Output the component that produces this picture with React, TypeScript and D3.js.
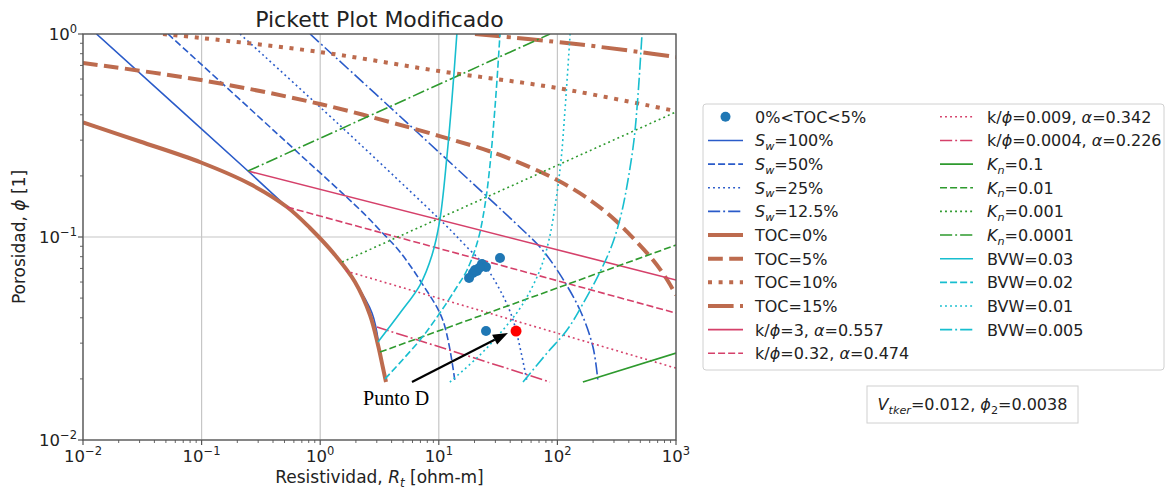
import React from 'react';
import * as d3 from 'd3';

type P = [number, number];

// ---------- data (Rt [ohm-m], phi [1]) ----------
const sw100: P[] = [[0.013, 1], [0.246, 0.2114], [0.525, 0.1405], [0.8204, 0.1107], [1.333, 0.0815], [1.965, 0.06002], [2.734, 0.0422], [3.1, 0.0304]];
const sw50: P[] = [[0.0521, 1], [0.59, 0.274], [2.17, 0.136], [3.19, 0.108], [4.71, 0.0844], [7.18, 0.0593], [10.8, 0.039], [13.7, 0.0193]];
const sw25: P[] = [[0.211, 1], [1.47, 0.354], [11.3, 0.115], [16.6, 0.0913], [24.5, 0.072], [32.8, 0.0548], [42.3, 0.039], [55.5, 0.0193]];
const sw125: P[] = [[0.821, 1], [6.94, 0.319], [51.3, 0.108], [71.3, 0.0892], [99.4, 0.0688], [155, 0.0437], [199.5, 0.0287], [220, 0.0193]];

const toc0: P[] = [[0.01, 0.3664], [0.03024, 0.2954], [0.09884, 0.2328], [0.2559, 0.1824], [0.5249, 0.1405], [0.8204, 0.1107], [1.333, 0.0815], [1.965, 0.06002], [2.63, 0.04127], [3.072, 0.02938], [3.385, 0.02263], [3.587, 0.0193]];
const toc5: P[] = [[0.01, 0.72], [0.0989, 0.593], [0.996, 0.452], [10, 0.315], [32.8, 0.2535], [99.4, 0.1909], [188.3, 0.1522], [306, 0.1213], [451, 0.0966], [640, 0.077], [824, 0.0628], [1000, 0.0518]];
const toc10: P[] = [[0.0473, 1], [0.0989, 0.956], [0.996, 0.815], [10, 0.657], [99.4, 0.542], [1000, 0.417]];
const toc15: P[] = [[20.2, 1], [120, 0.903], [497, 0.815], [1000, 0.77]];

const kphi3: P[] = [[0.246, 0.2114], [1000, 0.0614]];
const kphi032: P[] = [[0.525, 0.1405], [1000, 0.0422]];
const kphi0009: P[] = [[1.65, 0.068], [1000, 0.0226]];
const kphi00004: P[] = [[3.01, 0.036], [86.6, 0.0193]];

const kn01: P[] = [[164, 0.0193], [1000, 0.0268]];
const kn001: P[] = [[3.19, 0.0271], [1000, 0.0913]];
const kn0001: P[] = [[1.53, 0.0753], [1000, 0.413]];
const kn00001: P[] = [[0.246, 0.2114], [86.6, 1]];

const bvw03: P[] = [[3.07, 0.0304], [4.71, 0.0422], [6.94, 0.058], [8.77, 0.0815], [10.2, 0.121], [11.7, 0.248], [12.9, 0.473], [14.2, 1]];
const bvw02: P[] = [[3.52, 0.02], [6.94, 0.0311], [10.2, 0.0422], [14.2, 0.0567], [17.3, 0.0688], [21.4, 0.0966], [24.52, 0.1438], [27.02, 0.2263], [29.2, 0.3771], [30.96, 0.5935], [32.8, 1]];
const bvw01: P[] = [[12.4, 0.0193], [22.2, 0.0262], [34.7, 0.0348], [50.4, 0.0462], [71.3, 0.0688], [84.9, 0.0966], [97.3, 0.1522], [107.3, 0.2394], [115.9, 0.4223], [128, 1]];
const bvw005: P[] = [[51.3, 0.0193], [81.7, 0.0268], [120.5, 0.0348], [170.9, 0.0489], [228.7, 0.0672], [288.7, 0.0913], [343.9, 0.1283], [393.9, 0.1909], [442.4, 0.3005], [478.2, 0.5005], [516.9, 1]];

const ptsRt = [32.8, 23.1, 25.0, 21.0, 19.4, 18.0, 20.2, 22.0, 25.0];
const ptsPhi = [0.0788, 0.0736, 0.0712, 0.068, 0.0665, 0.0628, 0.0688, 0.0705, 0.0344];
const pointD: P = [44.8, 0.0344];
const arrowTail: P = [5.94, 0.0193];
const arrowHead: P = [38.3, 0.0337];
const labelD: P = [2.3, 0.01486];

const xDecades = [-2, -1, 0, 1, 2, 3];
const yDecades = [-2, -1, 0];

// ---------- layout / styles ----------
const W = 1170, H = 491;
const L = 83, R = 676, T = 34, B = 440;
const xS = d3.scaleLog().domain([1e-2, 1e3]).range([L, R]);
const yS = d3.scaleLog().domain([1e-2, 1]).range([B, T]);

const COL = { sw: '#2a5bc9', toc: '#bd6b4e', kp: '#d5406a', kn: '#2e9a2e', bvw: '#17becf', pt: '#1f77b4' };
const THIN = 1.6, THICK = 4;
const FONT = '"DejaVu Sans", sans-serif';

type St = 'solid' | 'dashed' | 'dotted' | 'dashdot';
function dashOf(s: St, thick: boolean): string | undefined {
  const u = thick ? 4 : 1.9;
  if (s === 'solid') return undefined;
  const pat = s === 'dashed' ? [3.7, 1.6] : s === 'dotted' ? [1, 1.65] : [6.4, 1.6, 1, 1.6];
  return pat.map(v => (v * u).toFixed(2)).join(',');
}

type Seg = { t: string; i?: boolean; sub?: boolean };
type Ser = { d: P[]; c: string; s: St; thick?: boolean; label: Seg[] };

const series: Ser[] = [
  { d: sw100, c: COL.sw, s: 'solid', label: [{ t: 'S', i: true }, { t: 'w', i: true, sub: true }, { t: '=100%' }] },
  { d: sw50, c: COL.sw, s: 'dashed', label: [{ t: 'S', i: true }, { t: 'w', i: true, sub: true }, { t: '=50%' }] },
  { d: sw25, c: COL.sw, s: 'dotted', label: [{ t: 'S', i: true }, { t: 'w', i: true, sub: true }, { t: '=25%' }] },
  { d: sw125, c: COL.sw, s: 'dashdot', label: [{ t: 'S', i: true }, { t: 'w', i: true, sub: true }, { t: '=12.5%' }] },
  { d: toc0, c: COL.toc, s: 'solid', thick: true, label: [{ t: 'TOC=0%' }] },
  { d: toc5, c: COL.toc, s: 'dashed', thick: true, label: [{ t: 'TOC=5%' }] },
  { d: toc10, c: COL.toc, s: 'dotted', thick: true, label: [{ t: 'TOC=10%' }] },
  { d: toc15, c: COL.toc, s: 'dashdot', thick: true, label: [{ t: 'TOC=15%' }] },
  { d: kphi3, c: COL.kp, s: 'solid', label: [{ t: 'k/' }, { t: 'ϕ', i: true }, { t: '=3, ' }, { t: 'α', i: true }, { t: '=0.557' }] },
  { d: kphi032, c: COL.kp, s: 'dashed', label: [{ t: 'k/' }, { t: 'ϕ', i: true }, { t: '=0.32, ' }, { t: 'α', i: true }, { t: '=0.474' }] },
  { d: kphi0009, c: COL.kp, s: 'dotted', label: [{ t: 'k/' }, { t: 'ϕ', i: true }, { t: '=0.009, ' }, { t: 'α', i: true }, { t: '=0.342' }] },
  { d: kphi00004, c: COL.kp, s: 'dashdot', label: [{ t: 'k/' }, { t: 'ϕ', i: true }, { t: '=0.0004, ' }, { t: 'α', i: true }, { t: '=0.226' }] },
  { d: kn01, c: COL.kn, s: 'solid', label: [{ t: 'K', i: true }, { t: 'n', i: true, sub: true }, { t: '=0.1' }] },
  { d: kn001, c: COL.kn, s: 'dashed', label: [{ t: 'K', i: true }, { t: 'n', i: true, sub: true }, { t: '=0.01' }] },
  { d: kn0001, c: COL.kn, s: 'dotted', label: [{ t: 'K', i: true }, { t: 'n', i: true, sub: true }, { t: '=0.001' }] },
  { d: kn00001, c: COL.kn, s: 'dashdot', label: [{ t: 'K', i: true }, { t: 'n', i: true, sub: true }, { t: '=0.0001' }] },
  { d: bvw03, c: COL.bvw, s: 'solid', label: [{ t: 'BVW=0.03' }] },
  { d: bvw02, c: COL.bvw, s: 'dashed', label: [{ t: 'BVW=0.02' }] },
  { d: bvw01, c: COL.bvw, s: 'dotted', label: [{ t: 'BVW=0.01' }] },
  { d: bvw005, c: COL.bvw, s: 'dashdot', label: [{ t: 'BVW=0.005' }] },
];

const lineGen = d3.line<P>().x(d => xS(d[0])).y(d => yS(d[1])).curve(d3.curveCatmullRom.alpha(0.5));

function Rich({ segs, x, y, size, anchor, transform }: { segs: Seg[]; x?: number; y?: number; size: number; anchor?: string; transform?: string }) {
  const out: React.ReactNode[] = [];
  let prevSub = false;
  segs.forEach((s, k) => {
    let dy = 0;
    if (s.sub && !prevSub) dy = size * 0.22;
    else if (!s.sub && prevSub) dy = -size * 0.22;
    prevSub = !!s.sub;
    out.push(
      <tspan key={k} dy={dy || undefined} fontStyle={s.i ? 'italic' : undefined} fontSize={s.sub ? size * 0.7 : undefined}>{s.t}</tspan>
    );
  });
  return (
    <text x={x} y={y} fontSize={size} fontFamily={FONT} fill="#222" textAnchor={anchor} transform={transform}>{out}</text>
  );
}

function Pow({ e, x, y, anchor }: { e: number; x: number; y: number; anchor: string }) {
  const es = e < 0 ? '\u2212' + Math.abs(e) : String(e);
  return (
    <text x={x} y={y} fontSize={16.5} fontFamily={FONT} fill="#222" textAnchor={anchor}>
      <tspan>10</tspan>
      <tspan dy={-7.5} fontSize={11.5}>{es}</tspan>
    </text>
  );
}

export default function App() {
  const minorX: number[] = [];
  xDecades.slice(0, -1).forEach(d => { for (let k = 2; k <= 9; k++) minorX.push(k * Math.pow(10, d)); });
  const minorY: number[] = [];
  yDecades.slice(0, -1).forEach(d => { for (let k = 2; k <= 9; k++) minorY.push(k * Math.pow(10, d)); });

  // arrow geometry in px
  const tx = xS(arrowTail[0]), ty = yS(arrowTail[1]);
  const hx = xS(arrowHead[0]), hy = yS(arrowHead[1]);
  const ang = Math.atan2(hy - ty, hx - tx);
  const hl = 15, hw = 5.5;
  const bx = hx - hl * Math.cos(ang), by = hy - hl * Math.sin(ang);
  const px = -Math.sin(ang), py = Math.cos(ang);
  const head = `${hx},${hy} ${bx + hw * px},${by + hw * py} ${bx - hw * px},${by - hw * py}`;

  const col1 = series.slice(0, 10);
  const col2 = series.slice(10);
  const rowY = (i: number) => 116.8 + 23.65 * i;

  return (
    <svg width={W} height={H} style={{ position: 'absolute', left: 0, top: 0, background: '#fff' }}>
      <defs>
        <clipPath id="plotClip"><rect x={L} y={T} width={R - L} height={B - T} /></clipPath>
      </defs>
      <rect x={0} y={0} width={W} height={H} fill="#fff" />

      {/* grid */}
      {xDecades.map(d => (
        <line key={'gx' + d} x1={xS(Math.pow(10, d))} x2={xS(Math.pow(10, d))} y1={T} y2={B} stroke="#c6c6c6" strokeWidth={1.2} />
      ))}
      {yDecades.map(d => (
        <line key={'gy' + d} y1={yS(Math.pow(10, d))} y2={yS(Math.pow(10, d))} x1={L} x2={R} stroke="#c6c6c6" strokeWidth={1.2} />
      ))}

      {/* curves */}
      <g clipPath="url(#plotClip)">
        {series.map((s, k) => (
          <path key={k} d={lineGen(s.d) || ''} fill="none" stroke={s.c} strokeWidth={s.thick ? THICK : THIN}
            strokeDasharray={dashOf(s.s, !!s.thick)} strokeLinecap="butt" strokeLinejoin="round" />
        ))}
        {ptsRt.map((r, k) => (
          <circle key={'p' + k} cx={xS(r)} cy={yS(ptsPhi[k])} r={5} fill={COL.pt} />
        ))}
        <circle cx={xS(pointD[0])} cy={yS(pointD[1])} r={5.5} fill="#ff0000" />
      </g>

      {/* arrow + label */}
      <line x1={tx} y1={ty} x2={bx} y2={by} stroke="#000" strokeWidth={2.2} />
      <polygon points={head} fill="#000" />
      <text x={xS(labelD[0])} y={yS(labelD[1])} fontFamily={'"Liberation Serif", "Times New Roman", serif'} fontSize={20} fill="#000">Punto D</text>

      {/* axes frame */}
      <rect x={L} y={T} width={R - L} height={B - T} fill="none" stroke="#555" strokeWidth={1.3} />
      {xDecades.map(d => (
        <g key={'tx' + d}>
          <line x1={xS(Math.pow(10, d))} x2={xS(Math.pow(10, d))} y1={B} y2={B + 5} stroke="#555" strokeWidth={1.2} />
          <Pow e={d} x={xS(Math.pow(10, d))} y={462} anchor="middle" />
        </g>
      ))}
      {minorX.map((v, k) => (
        <line key={'mx' + k} x1={xS(v)} x2={xS(v)} y1={B} y2={B + 3} stroke="#555" strokeWidth={0.9} />
      ))}
      {yDecades.map(d => (
        <g key={'ty' + d}>
          <line y1={yS(Math.pow(10, d))} y2={yS(Math.pow(10, d))} x1={L} x2={L - 5} stroke="#555" strokeWidth={1.2} />
          <Pow e={d} x={77} y={yS(Math.pow(10, d)) + 6} anchor="end" />
        </g>
      ))}
      {minorY.map((v, k) => (
        <line key={'my' + k} y1={yS(v)} y2={yS(v)} x1={L} x2={L - 3} stroke="#555" strokeWidth={0.9} />
      ))}

      {/* titles */}
      <text x={(L + R) / 2} y={27} fontSize={22} fontFamily={FONT} fill="#222" textAnchor="middle">Pickett Plot Modificado</text>
      <Rich segs={[{ t: 'Resistividad, ' }, { t: 'R', i: true }, { t: 't', i: true, sub: true }, { t: ' [ohm-m]' }]} x={(L + R) / 2} y={483} size={17} anchor="middle" />
      <Rich segs={[{ t: 'Porosidad, ' }, { t: 'ϕ', i: true }, { t: ' [1]' }]} size={17} anchor="middle" transform={`translate(25,${(T + B) / 2}) rotate(-90)`} />

      {/* legend */}
      <rect x={703} y={104} width={461} height={266} rx={3} fill="#fff" stroke="#d0d0d0" strokeWidth={1} />
      <circle cx={725.5} cy={rowY(0)} r={5} fill={COL.pt} />
      <Rich segs={[{ t: '0%<TOC<5%' }]} x={755} y={rowY(0) + 6} size={16} />
      {col1.map((s, k) => (
        <g key={'l1' + k}>
          <line x1={708} x2={743} y1={rowY(k + 1)} y2={rowY(k + 1)} stroke={s.c} strokeWidth={s.thick ? THICK : THIN} strokeDasharray={dashOf(s.s, !!s.thick)} />
          <Rich segs={s.label} x={755} y={rowY(k + 1) + 6} size={16} />
        </g>
      ))}
      {col2.map((s, k) => (
        <g key={'l2' + k}>
          <line x1={940} x2={973} y1={rowY(k)} y2={rowY(k)} stroke={s.c} strokeWidth={s.thick ? THICK : THIN} strokeDasharray={dashOf(s.s, !!s.thick)} />
          <Rich segs={s.label} x={987} y={rowY(k) + 6} size={16} />
        </g>
      ))}

      {/* annotation box */}
      <rect x={867} y={386} width={211} height={37} fill="#fff" stroke="#d0d0d0" strokeWidth={1} />
      <Rich segs={[{ t: 'V', i: true }, { t: 'tker', i: true, sub: true }, { t: '=0.012, ' }, { t: 'ϕ', i: true }, { t: '2', sub: true }, { t: '=0.0038' }]} x={972.5} y={410} size={16} anchor="middle" />
    </svg>
  );
}
